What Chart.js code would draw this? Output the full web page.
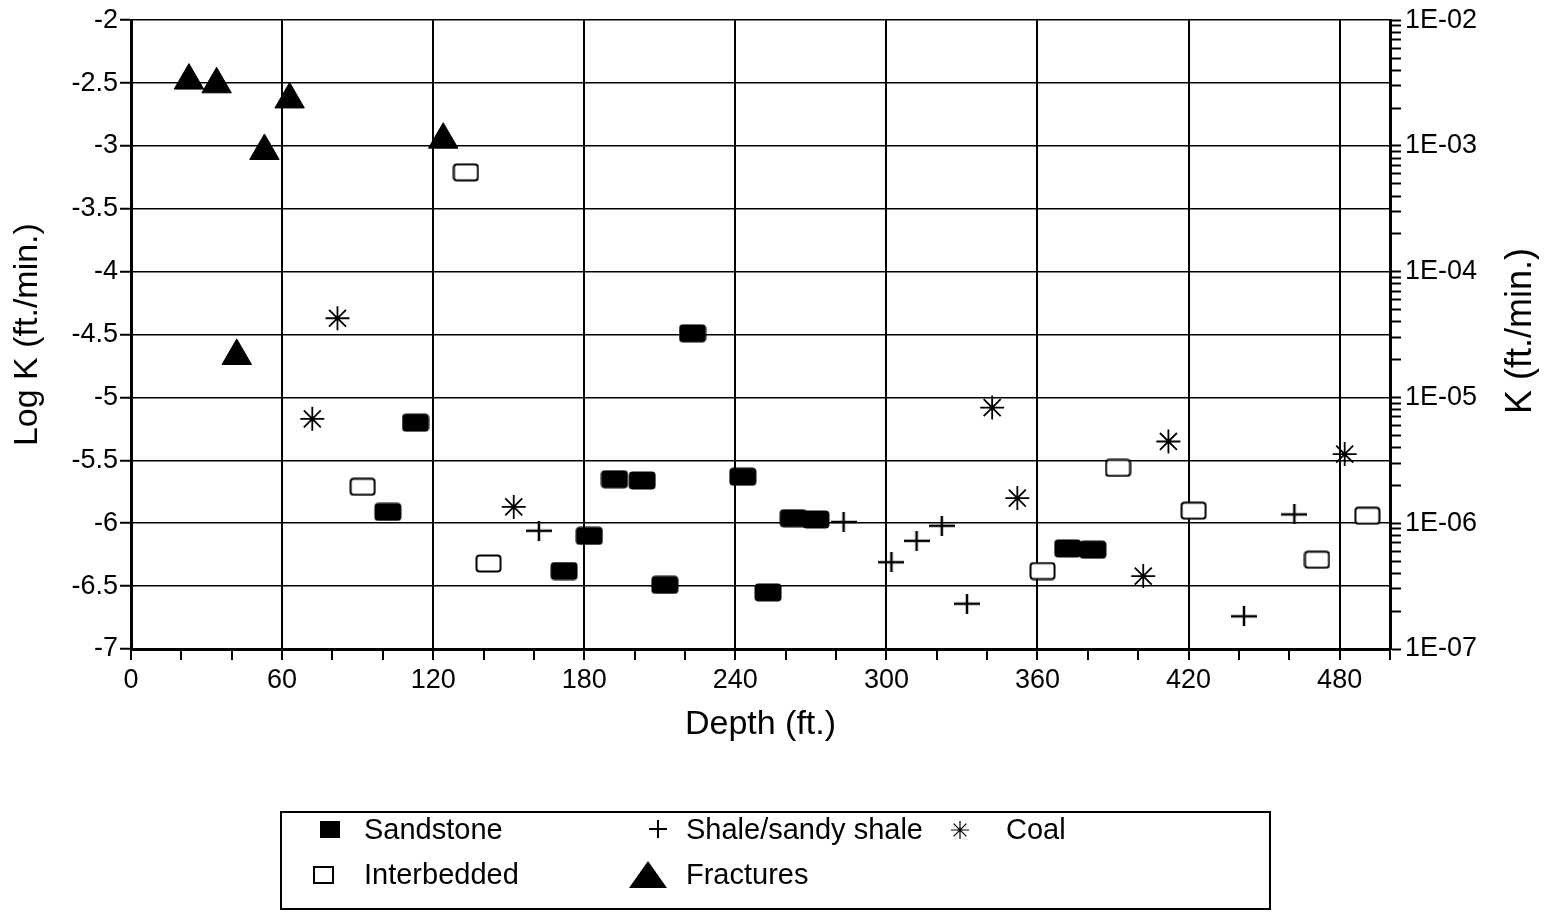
<!DOCTYPE html>
<html>
<head>
<meta charset="utf-8">
<script src="https://cdn.jsdelivr.net/npm/chart.js@4"></script>
<style>
  html, body { margin: 0; padding: 0; background: #fff; }
  #wrap { width: 1548px; height: 912px; position: relative; }
</style>
</head>
<body>
<div id="wrap"><canvas id="myChart" width="1548" height="912"></canvas></div>
<script>
// depth (ft.) and log K (ft./min.)
var sandstoneDepth = [102, 113, 172, 182, 192, 203, 212, 223, 243, 253, 263, 272, 372, 382];
var sandstoneLogK = [-5.91, -5.20, -6.38, -6.10, -5.65, -5.66, -6.49, -4.49, -5.63, -6.55, -5.96, -5.97, -6.20, -6.21];

var interbeddedDepth = [92, 133, 142, 362, 392, 422, 471, 491];
var interbeddedLogK = [-5.71, -3.21, -6.32, -6.38, -5.56, -5.90, -6.29, -5.94];

var shaleDepth = [162, 283, 302, 312, 322, 332, 442, 462];
var shaleLogK = [-6.06, -5.99, -6.31, -6.14, -6.02, -6.64, -6.74, -5.93];

var coalDepth = [72, 82, 152, 342, 352, 402, 412, 482];
var coalLogK = [-5.17, -4.37, -5.87, -5.08, -5.80, -6.42, -5.35, -5.45];

var fracDepth = [23, 34, 42, 53, 63, 124];
var fracLogK = [-2.48, -2.51, -4.67, -3.04, -2.63, -2.95];

var depthTicks = [0, 20, 40, 60, 80, 100, 120, 140, 160, 180, 200, 220, 240, 260, 280, 300, 320, 340, 360, 380, 400, 420, 440, 460, 480, 500];
var kDecades = [-7, -6, -5, -4, -3];
var kMultiples = [1, 2, 3, 4, 5, 6, 7, 8, 9];

var FONT = "'Liberation Sans', Arial, Helvetica, sans-serif";

function toPoints(xs, ys) {
  var pts = [];
  for (let i = 0; i < xs.length; i++) {
    pts[i] = { x: xs[i], y: ys[i] };
  }
  return pts;
}

// little marker pictures for the rectangles and the cross
function boxMarker(w, h, filled) {
  var c = document.createElement("canvas");
  c.width = w;
  c.height = h;
  var g = c.getContext("2d");
  g.beginPath();
  g.roundRect(1.5, 1.5, w - 3, h - 3, 3);
  g.fillStyle = filled ? "#000" : "#fff";
  g.fill();
  g.lineWidth = 2;
  g.strokeStyle = "#000";
  g.stroke();
  return c;
}
function crossMarker(w, h) {
  var c = document.createElement("canvas");
  c.width = w;
  c.height = h;
  var g = c.getContext("2d");
  g.strokeStyle = "#000";
  g.lineWidth = 2.5;
  g.beginPath();
  g.moveTo(0, h / 2);
  g.lineTo(w, h / 2);
  g.moveTo(w / 2, 0);
  g.lineTo(w / 2, h);
  g.stroke();
  return c;
}

var sandImg = boxMarker(28, 19, true);
var interImg = boxMarker(27, 19, false);
var crossImg = crossMarker(26, 20);

// right side title reads bottom to top
var rightTitle = {
  id: "rightTitle",
  afterDraw(chart) {
    var ctx = chart.ctx;
    ctx.save();
    ctx.translate(1521, 331);
    ctx.rotate(-Math.PI / 2);
    ctx.font = "36px " + FONT;
    ctx.fillStyle = "#000";
    ctx.textAlign = "center";
    ctx.textBaseline = "middle";
    ctx.fillText("K (ft./min.)", 0, 0);
    ctx.restore();
  },
};

// boxed legend under the chart
var boxLegend = {
  id: "boxLegend",
  afterDraw(chart) {
    var ctx = chart.ctx;
    ctx.save();
    ctx.strokeStyle = "#000";
    ctx.fillStyle = "#000";
    ctx.lineWidth = 2;
    ctx.strokeRect(281, 812, 989, 97);

    // sandstone
    ctx.fillRect(320, 821, 20, 17);
    // interbedded
    ctx.strokeRect(314, 867, 19, 16);
    // shale cross
    ctx.beginPath();
    ctx.moveTo(649, 829);
    ctx.lineTo(667, 829);
    ctx.moveTo(658, 820);
    ctx.lineTo(658, 838);
    ctx.stroke();
    // coal star
    ctx.lineWidth = 1.2;
    ctx.beginPath();
    for (let a = 0; a < 4; a++) {
      var ang = (a * Math.PI) / 4;
      ctx.moveTo(960 - 9 * Math.cos(ang), 830 - 9 * Math.sin(ang));
      ctx.lineTo(960 + 9 * Math.cos(ang), 830 + 9 * Math.sin(ang));
    }
    ctx.stroke();
    // fractures triangle
    ctx.beginPath();
    ctx.moveTo(648, 861);
    ctx.lineTo(667, 888);
    ctx.lineTo(629, 888);
    ctx.closePath();
    ctx.fill();

    ctx.font = "29px " + FONT;
    ctx.textBaseline = "middle";
    ctx.textAlign = "left";
    ctx.fillText("Sandstone", 364, 831);
    ctx.fillText("Shale/sandy shale", 686, 831);
    ctx.fillText("Coal", 1006, 831);
    ctx.fillText("Interbedded", 364, 876);
    ctx.fillText("Fractures", 686, 876);
    ctx.restore();
  },
};

const ctx = document.getElementById("myChart");

new Chart(ctx, {
  type: "scatter",
  data: {
    datasets: [
      {
        label: "Sandstone",
        data: toPoints(sandstoneDepth, sandstoneLogK),
        pointStyle: sandImg,
        pointRadius: 12,
      },
      {
        label: "Interbedded",
        data: toPoints(interbeddedDepth, interbeddedLogK),
        pointStyle: interImg,
        pointRadius: 12,
      },
      {
        label: "Shale/sandy shale",
        data: toPoints(shaleDepth, shaleLogK),
        pointStyle: crossImg,
        pointRadius: 12,
      },
      {
        label: "Coal",
        data: toPoints(coalDepth, coalLogK),
        pointStyle: "star",
        pointRadius: 12,
        borderColor: "#000",
        borderWidth: 1.8,
      },
      {
        label: "Fractures",
        data: toPoints(fracDepth, fracLogK),
        pointStyle: "triangle",
        pointRadius: 17,
        backgroundColor: "#000",
        borderColor: "#000",
        borderWidth: 1,
      },
    ],
  },
  options: {
    responsive: false,
    animation: false,
    layout: { padding: { top: 19, bottom: 163, left: 0, right: 0 } },
    plugins: {
      legend: { display: false },
      tooltip: { enabled: false },
    },
    scales: {
      x: {
        type: "linear",
        min: 0,
        max: 500,
        afterBuildTicks: (s) => {
          s.ticks = depthTicks.map((v) => ({ value: v }));
        },
        afterFit: (s) => {
          s.height = 100;
        },
        ticks: {
          autoSkip: false,
          maxRotation: 0,
          color: "#000",
          padding: 4,
          font: { family: FONT, size: 27 },
          callback: (v) => (v % 60 === 0 ? v : ""),
        },
        grid: {
          color: (c) => (c.tick && c.tick.value % 60 === 0 ? "#000" : "rgba(0,0,0,0)"),
          lineWidth: 2,
          tickColor: "#000",
          tickLength: 11,
          tickWidth: 2,
        },
        border: { color: "#000", width: 3 },
        title: {
          display: true,
          text: "Depth (ft.)",
          color: "#000",
          font: { family: FONT, size: 34 },
          padding: { top: 2 },
        },
      },
      y: {
        position: "left",
        min: -7,
        max: -2,
        afterFit: (s) => {
          s.width = 131;
        },
        ticks: {
          stepSize: 0.5,
          color: "#000",
          padding: 2,
          font: { family: FONT, size: 27 },
          callback: (v) => String(v),
        },
        grid: {
          color: "#000",
          lineWidth: 1.5,
          tickColor: "#000",
          tickLength: 11,
          tickWidth: 2,
        },
        border: { color: "#000", width: 3 },
        title: {
          display: true,
          text: "Log K (ft./min.)",
          color: "#000",
          font: { family: FONT, size: 34, lineHeight: 1.65 },
          padding: { bottom: 0, top: 0 },
        },
      },
      y2: {
        position: "right",
        min: -7,
        max: -2,
        afterBuildTicks: (s) => {
          var t = [];
          kDecades.forEach((d) => {
            kMultiples.forEach((m) => {
              t.push({ value: d + Math.log10(m) });
            });
          });
          t.push({ value: -2 });
          s.ticks = t;
        },
        afterFit: (s) => {
          s.width = 158;
        },
        ticks: {
          autoSkip: false,
          color: "#000",
          padding: 4,
          font: { family: FONT, size: 27 },
          callback: (v) => {
            var e = Math.round(v);
            return Math.abs(v - e) < 1e-6 ? "1E-0" + Math.abs(e) : "";
          },
        },
        grid: {
          drawOnChartArea: false,
          tickColor: "#000",
          tickLength: 11,
          tickWidth: 2,
        },
        border: { color: "#000", width: 3 },
      },
    },
  },
  plugins: [rightTitle, boxLegend],
});
</script>
</body>
</html>
